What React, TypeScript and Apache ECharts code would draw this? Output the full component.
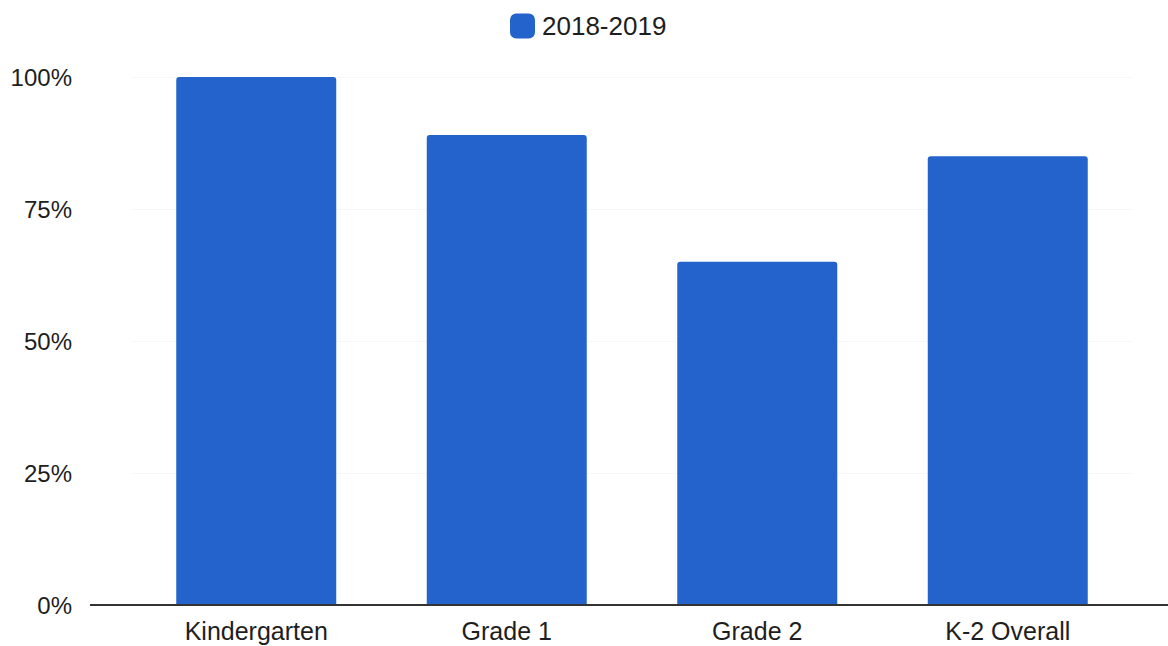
import React, { useEffect, useRef } from "react";
import * as echarts from "echarts";

const categories = ["Kindergarten", "Grade 1", "Grade 2", "K-2 Overall"];
const seriesName = "2018-2019";
const values = [100, 89, 65, 85];
const yTicks = [0, 25, 50, 75, 100];

export default function App() {
  const ref = useRef<HTMLDivElement>(null);
  useEffect(() => {
    if (!ref.current) return;
    const chart = echarts.init(ref.current, null, { renderer: "svg" });
    const font = "'Liberation Sans', Arial, sans-serif";
    chart.setOption({
      animation: false,
      backgroundColor: "#ffffff",
      textStyle: { fontFamily: font },
      legend: {
        data: [seriesName],
        left: 505,
        top: 8,
        itemWidth: 25,
        itemHeight: 25,
        itemGap: 10,
        textStyle: { fontSize: 26, color: "#1e1e1e", fontFamily: font, padding: [0, 0, 0, 2] },
        icon: "roundRect",
      },
      grid: { left: 131, right: 35, top: 77, bottom: 41, containLabel: false },
      xAxis: {
        type: "category",
        data: categories,
        axisLine: { show: false },
        axisTick: { show: false },
        axisLabel: { fontSize: 25, color: "#1e1e1e", margin: 13, fontFamily: font },
      },
      yAxis: {
        type: "value",
        min: yTicks[0],
        max: yTicks[yTicks.length - 1],
        interval: 25,
        axisLine: { show: false },
        axisTick: { show: false },
        splitLine: { show: true, lineStyle: { color: "#f7f7f7", width: 1 } },
        axisLabel: {
          fontSize: 24,
          color: "#1e1e1e",
          margin: 59,
          fontFamily: font,
          formatter: (v: number) => `${v}%`,
        },
      },
      graphic: [
        {
          type: "line",
          shape: { x1: 90, y1: 605, x2: 1168, y2: 605 },
          style: { stroke: "#333333", lineWidth: 2 },
          z: 100,
        },
      ],
      series: [
        {
          name: seriesName,
          type: "bar",
          data: values,
          barWidth: 160,
          itemStyle: { color: "#2563cc", borderRadius: [3, 3, 0, 0] },
        },
      ],
    });
    return () => chart.dispose();
  }, []);
  return (
    <div
      ref={ref}
      style={{ position: "fixed", left: 0, top: 0, width: 1168, height: 646 }}
    />
  );
}
